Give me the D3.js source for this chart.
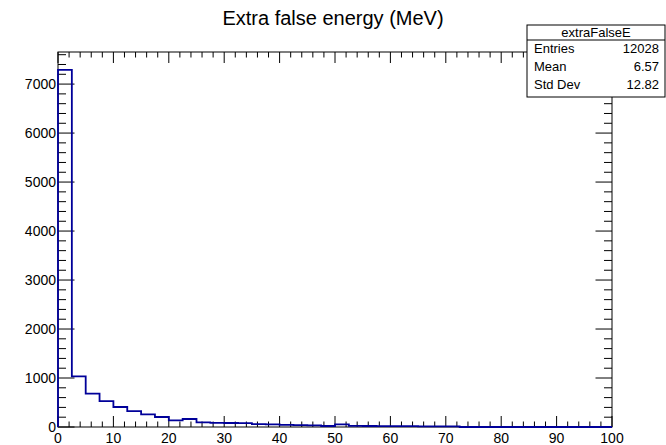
<!DOCTYPE html>
<html>
<head>
<meta charset="utf-8">
<script src="https://cdn.jsdelivr.net/npm/d3@7"></script>
<style>
  body { margin: 0; background: #fff; }
  text { font-family: "Liberation Sans", Arial, sans-serif; }
</style>
</head>
<body>
<script>
// histogram contents, 40 bins of 2.5 MeV from 0 to 100
var counts = [7290, 1033, 680, 530, 408, 326, 259, 204, 137, 163,
              96, 85, 82, 80, 58, 55, 42, 38, 34, 20,
              55, 22, 20, 18, 18, 16, 14, 14, 12, 0,
              0, 0, 0, 0, 0, 0, 0, 0, 0, 0];
var binWidth = 2.5;
var xTicks = [0, 10, 20, 30, 40, 50, 60, 70, 80, 90, 100];
var yTicks = [0, 1000, 2000, 3000, 4000, 5000, 6000, 7000];
var statsLabels = ["Entries", "Mean", "Std Dev"];
var statsValues = ["12028", "6.57", "12.82"];
var histName = "extraFalseE";
var title = "Extra false energy (MeV)";

var width = 666,
    height = 445,
    frame = {left: 58, right: 612, top: 52, bottom: 427};

var x = d3.scaleLinear().domain([0, 100]).range([frame.left, frame.right]);
var y = d3.scaleLinear().domain([0, 7655]).range([frame.bottom, frame.top]);

var svg = d3.select("body").append("svg")
    .attr("width", width)
    .attr("height", height);

// frame
svg.append("rect")
    .attr("x", frame.left)
    .attr("y", frame.top)
    .attr("width", frame.right - frame.left)
    .attr("height", frame.bottom - frame.top)
    .attr("fill", "none")
    .attr("stroke", "#000")
    .attr("stroke-width", 1);

// ticks: major + minor on all four sides, ROOT style
var xMinor = d3.range(0, 100.01, 2);
var yMinor = d3.range(0, 7655, 200);

var ticks = svg.append("g").attr("stroke", "#000").attr("stroke-width", 1);

xMinor.forEach(function(v) {
    var len = v % 10 === 0 ? 11 : 5.5;
    ticks.append("line")
        .attr("x1", x(v)).attr("x2", x(v))
        .attr("y1", frame.bottom).attr("y2", frame.bottom - len);
    ticks.append("line")
        .attr("x1", x(v)).attr("x2", x(v))
        .attr("y1", frame.top).attr("y2", frame.top + len);
});

yMinor.forEach(function(v) {
    var len = v % 1000 === 0 ? 16.5 : 8;
    ticks.append("line")
        .attr("x1", frame.left).attr("x2", frame.left + len)
        .attr("y1", y(v)).attr("y2", y(v));
    ticks.append("line")
        .attr("x1", frame.right).attr("x2", frame.right - len)
        .attr("y1", y(v)).attr("y2", y(v));
});

// tick labels
svg.append("g").selectAll("text")
    .data(xTicks)
  .enter().append("text")
    .attr("x", function(d) { return x(d); })
    .attr("y", frame.bottom + 16)
    .attr("text-anchor", "middle")
    .attr("font-size", 14)
    .attr("fill", "#000")
    .text(function(d) { return d; });

svg.append("g").selectAll("text")
    .data(yTicks)
  .enter().append("text")
    .attr("x", frame.left - 2)
    .attr("y", function(d) { return y(d) + 5; })
    .attr("text-anchor", "end")
    .attr("font-size", 14)
    .attr("fill", "#000")
    .text(function(d) { return d; });

// histogram outline
var path = d3.path();
path.moveTo(x(0), y(0));
counts.forEach(function(c, i) {
    path.lineTo(x(i * binWidth), y(c));
    path.lineTo(x((i + 1) * binWidth), y(c));
});
path.lineTo(x(100), y(0));

svg.append("path")
    .attr("d", path.toString())
    .attr("fill", "none")
    .attr("stroke", "#000099")
    .attr("stroke-width", 1.8);

// title
svg.append("text")
    .attr("x", 333)
    .attr("y", 25)
    .attr("text-anchor", "middle")
    .attr("font-size", 20)
    .text(title);

// stats box
var box = {x: 527, y: 25, w: 138, h: 72};
svg.append("rect")
    .attr("x", box.x).attr("y", box.y)
    .attr("width", box.w).attr("height", box.h)
    .attr("fill", "#fff")
    .attr("stroke", "#000")
    .attr("stroke-width", 1);

svg.append("line")
    .attr("x1", box.x).attr("x2", box.x + box.w)
    .attr("y1", box.y + 15).attr("y2", box.y + 15)
    .attr("stroke", "#000");

svg.append("text")
    .attr("x", box.x + box.w / 2)
    .attr("y", box.y + 12)
    .attr("text-anchor", "middle")
    .attr("font-size", 13)
    .text(histName);

statsLabels.forEach(function(l, i) {
    var ty = box.y + 28 + i * 18;
    svg.append("text")
        .attr("x", box.x + 7)
        .attr("y", ty)
        .attr("font-size", 13)
        .text(l);
    svg.append("text")
        .attr("x", box.x + box.w - 6)
        .attr("y", ty)
        .attr("text-anchor", "end")
        .attr("font-size", 13)
        .text(statsValues[i]);
});
</script>
</body>
</html>
